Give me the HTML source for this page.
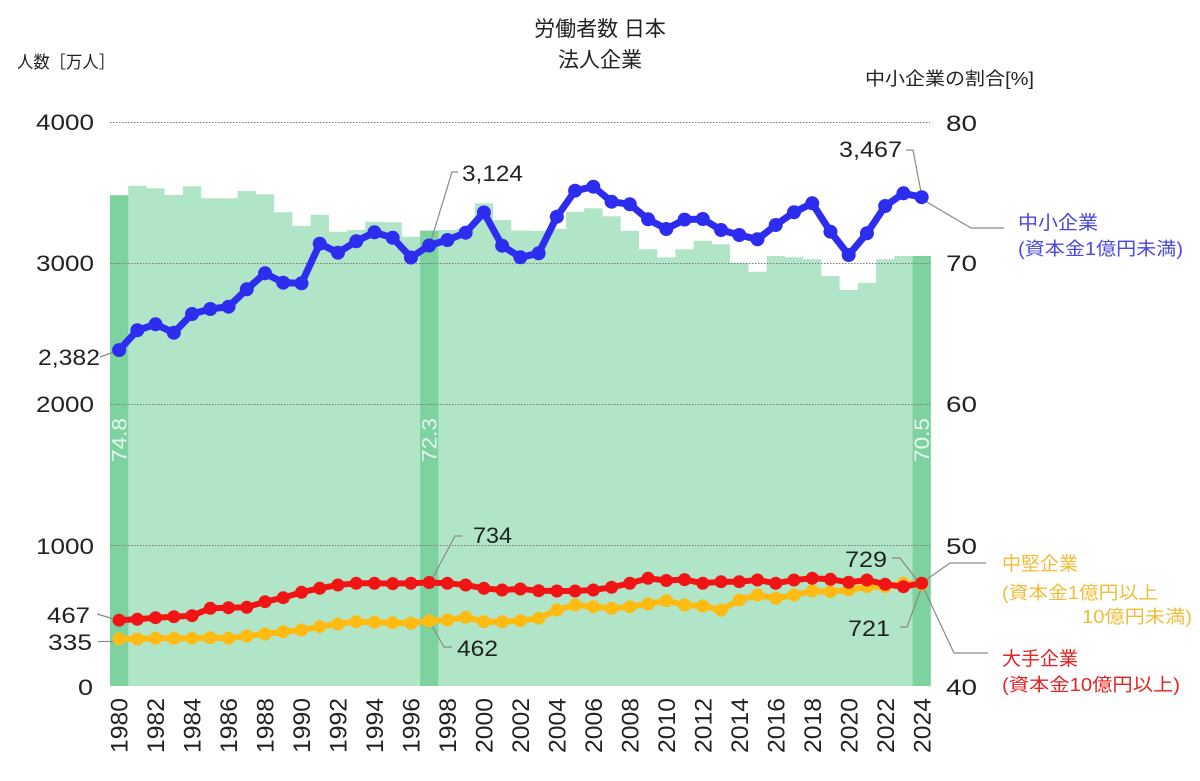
<!DOCTYPE html>
<html><head><meta charset="utf-8"><style>
html,body{margin:0;padding:0;background:#fff;}
svg{display:block;}
text{font-family:"Liberation Sans","Noto Sans CJK JP",sans-serif;}
</style></head><body>
<svg width="1200" height="781" viewBox="0 0 1200 781" xmlns="http://www.w3.org/2000/svg">
<defs>
<marker id="mb" markerUnits="userSpaceOnUse" markerWidth="16" markerHeight="16" refX="8" refY="8"><circle cx="8" cy="8" r="7" fill="#2d2df0"/></marker>
<marker id="mr" markerUnits="userSpaceOnUse" markerWidth="16" markerHeight="16" refX="8" refY="8"><circle cx="8" cy="8" r="6.5" fill="#f01414"/></marker>
<marker id="my" markerUnits="userSpaceOnUse" markerWidth="16" markerHeight="16" refX="8" refY="8"><circle cx="8" cy="8" r="6.5" fill="#ffbb11"/></marker>
</defs>
<rect width="1200" height="781" fill="#fff"/>

<!-- bars -->
<path fill="#b1e5c8" d="M110,686 V195.3 H128.24 V185.7 H146.48 V188.3 H164.72 V195 H182.96 V186.3 H201.2 V198.3 H219.44 V198.3 H237.68 V191 H255.92 V194.3 H274.16 V212.3 H292.4 V225.7 H310.64 V214.7 H328.88 V231.7 H347.12 V230 H365.36 V221.7 H383.6 V222.3 H401.84 V236.7 H420.08 V230.6 H438.32 V230 H456.56 V229 H474.8 V203.3 H493.04 V220 H511.28 V230.5 H529.52 V230.7 H547.76 V229 H566 V211.7 H584.24 V208.3 H602.48 V216.3 H620.72 V230.7 H638.96 V249.3 H657.2 V257.3 H675.44 V249.2 H693.68 V240.7 H711.92 V244.3 H730.16 V262.7 H748.4 V271.7 H766.64 V256 H784.88 V257.3 H803.12 V259.3 H821.36 V276 H839.6 V290 H857.84 V282.7 H876.08 V259.3 H894.32 V256 H912.56 V256 H930.8 V686 Z"/>
<rect x="110" y="195.3" width="18.24" height="490.7" fill="#7dd2a0"/>
<rect x="420.08" y="230.6" width="18.24" height="455.4" fill="#7dd2a0"/>
<rect x="912.56" y="256" width="18.24" height="430" fill="#7dd2a0"/>

<!-- gridlines -->
<g stroke="#7a7a7a" stroke-width="1" stroke-dasharray="1.5 1.5" fill="none">
<line x1="110" y1="122.5" x2="930" y2="122.5"/>
<line x1="110" y1="263.5" x2="930" y2="263.5"/>
<line x1="110" y1="404.5" x2="930" y2="404.5"/>
<line x1="110" y1="545.5" x2="930" y2="545.5"/>
</g>

<!-- bar value labels -->
<g fill="#ffffff" fill-opacity="0.8" font-size="21" text-anchor="middle">
<text transform="translate(126.6,440) rotate(-90)" textLength="44" lengthAdjust="spacingAndGlyphs">74.8</text>
<text transform="translate(436.7,440) rotate(-90)" textLength="44" lengthAdjust="spacingAndGlyphs">72.3</text>
<text transform="translate(929.2,440) rotate(-90)" textLength="44" lengthAdjust="spacingAndGlyphs">70.5</text>
</g>

<!-- leader lines -->
<g stroke="#8a8a8a" stroke-width="1.2" fill="none">
<path d="M100,357 L114,352"/>
<path d="M97,614 L114,619"/>
<path d="M98,641.5 H113"/>
<path d="M458,172 H452 L430,244"/>
<path d="M462,536 H455 L431,581"/>
<path d="M452,647 H444 L431,624"/>
<path d="M906,150 H913 L921,192"/>
<path d="M925,201 L971,228 H1004"/>
<path d="M892,558 H900 L920,584"/>
<path d="M900,627 H907 L921,589"/>
<path d="M986,563 H950 L923,582"/>
<path d="M988,653 H954 L923,587"/>
</g>

<!-- series -->
<polyline fill="none" stroke="#ffbb11" stroke-width="6" stroke-linejoin="round" marker-start="url(#my)" marker-mid="url(#my)" marker-end="url(#my)" points="119.1,638.8 137.34,639 155.58,638.3 173.82,638.3 192.06,638.3 210.3,637.7 228.54,638.3 246.78,636 265.02,634 283.26,631.7 301.5,630 319.74,626.7 337.98,624 356.22,621.7 374.46,622.3 392.7,622.7 410.94,623.3 429.18,620.9 447.42,620 465.66,617.3 483.9,621.7 502.14,621.7 520.38,620.7 538.62,618.3 556.86,610 575.1,605 593.34,606.7 611.58,608.3 629.82,606.7 648.06,604 666.3,600.7 684.54,605 702.78,606 721.02,610 739.26,600 757.5,595 775.74,598.3 793.98,595 812.22,591 830.46,591.7 848.7,590 866.94,586.7 885.18,586.7 903.42,583.3 921.66,584.3"/>
<polyline fill="none" stroke="#f01414" stroke-width="6" stroke-linejoin="round" marker-start="url(#mr)" marker-mid="url(#mr)" marker-end="url(#mr)" points="119.1,620.2 137.34,619.3 155.58,617.7 173.82,616.7 192.06,615.7 210.3,608.3 228.54,607.7 246.78,607.3 265.02,601.7 283.26,597.7 301.5,592.3 319.74,588.3 337.98,585 356.22,583.3 374.46,583.3 392.7,583.6 410.94,583.3 429.18,582.5 447.42,583.3 465.66,585 483.9,588.3 502.14,590 520.38,589 538.62,590.7 556.86,591 575.1,591 593.34,590 611.58,587.3 629.82,583.3 648.06,578.3 666.3,580.5 684.54,579.6 702.78,583.3 721.02,581.7 739.26,581.7 757.5,580 775.74,583.3 793.98,580 812.22,578.3 830.46,579.3 848.7,582.3 866.94,580 885.18,584.3 903.42,586.7 921.66,583.2"/>
<polyline fill="none" stroke="#2d2df0" stroke-width="7" stroke-linejoin="round" marker-start="url(#mb)" marker-mid="url(#mb)" marker-end="url(#mb)" points="119.1,350.1 137.34,330.3 155.58,324.3 173.82,332.7 192.06,314 210.3,309 228.54,306.7 246.78,289.3 265.02,273.3 283.26,282.7 301.5,283.3 319.74,243.7 337.98,252.7 356.22,241.3 374.46,232.3 392.7,237.8 410.94,257.5 429.18,245.5 447.42,240 465.66,232.7 483.9,212.5 502.14,245.7 520.38,257.3 538.62,253.3 556.86,216.7 575.1,190.7 593.34,186.7 611.58,201.7 629.82,204.3 648.06,219.3 666.3,229 684.54,219.6 702.78,219 721.02,230 739.26,235 757.5,239.3 775.74,225 793.98,212.3 812.22,203.3 830.46,231.7 848.7,255 866.94,233.3 885.18,206 903.42,193.3 921.66,197.2"/>

<!-- titles -->
<g fill="#222">
<text x="600" y="36" font-size="21" text-anchor="middle">労働者数 日本</text>
<text x="600" y="67" font-size="21" text-anchor="middle">法人企業</text>
<text x="17" y="68" font-size="17" textLength="98" lengthAdjust="spacingAndGlyphs">人数［万人］</text>
<text x="865" y="85" font-size="18" textLength="169" lengthAdjust="spacingAndGlyphs">中小企業の割合[%]</text>
</g>

<!-- left axis -->
<g fill="#222" font-size="22" text-anchor="end">
<text x="94" y="130" textLength="58" lengthAdjust="spacingAndGlyphs">4000</text>
<text x="94" y="271" textLength="58" lengthAdjust="spacingAndGlyphs">3000</text>
<text x="94" y="412" textLength="58" lengthAdjust="spacingAndGlyphs">2000</text>
<text x="94" y="554" textLength="58" lengthAdjust="spacingAndGlyphs">1000</text>
<text x="93" y="695" textLength="15" lengthAdjust="spacingAndGlyphs">0</text>
<text x="100" y="365" textLength="62" lengthAdjust="spacingAndGlyphs">2,382</text>
<text x="90" y="623" textLength="43" lengthAdjust="spacingAndGlyphs">467</text>
<text x="92" y="650" textLength="44" lengthAdjust="spacingAndGlyphs">335</text>
</g>

<!-- right axis -->
<g fill="#222" font-size="22">
<text x="946" y="131" textLength="31" lengthAdjust="spacingAndGlyphs">80</text>
<text x="946" y="271" textLength="31" lengthAdjust="spacingAndGlyphs">70</text>
<text x="946" y="412" textLength="31" lengthAdjust="spacingAndGlyphs">60</text>
<text x="946" y="554" textLength="31" lengthAdjust="spacingAndGlyphs">50</text>
<text x="946" y="695" textLength="31" lengthAdjust="spacingAndGlyphs">40</text>
</g>

<!-- annotations -->
<g fill="#222" font-size="22">
<text x="462" y="181" textLength="61" lengthAdjust="spacingAndGlyphs">3,124</text>
<text x="473" y="543" textLength="39" lengthAdjust="spacingAndGlyphs">734</text>
<text x="457" y="656" textLength="41" lengthAdjust="spacingAndGlyphs">462</text>
<text x="845" y="567" textLength="42" lengthAdjust="spacingAndGlyphs">729</text>
<text x="848" y="636" textLength="42" lengthAdjust="spacingAndGlyphs">721</text>
<text x="839" y="157" textLength="63" lengthAdjust="spacingAndGlyphs">3,467</text>
</g>

<!-- legend labels -->
<g font-size="19">
<text x="1018" y="229" fill="#4848e2" textLength="80" lengthAdjust="spacingAndGlyphs">中小企業</text>
<text x="1018" y="255" fill="#4848e2" font-size="18" textLength="165" lengthAdjust="spacingAndGlyphs">(資本金1億円未満)</text>
<text x="1002" y="570" fill="#f0bd3a" textLength="76" lengthAdjust="spacingAndGlyphs">中堅企業</text>
<text x="1002" y="599" fill="#f0bd3a" font-size="18" textLength="156" lengthAdjust="spacingAndGlyphs">(資本金1億円以上</text>
<text x="1082" y="623" fill="#f0bd3a" font-size="18" textLength="110" lengthAdjust="spacingAndGlyphs">10億円未満)</text>
<text x="1002" y="665" fill="#e62222" textLength="76" lengthAdjust="spacingAndGlyphs">大手企業</text>
<text x="1002" y="691" fill="#e62222" font-size="18" textLength="178" lengthAdjust="spacingAndGlyphs">(資本金10億円以上)</text>
</g>

<!-- year labels -->
<g fill="#222" font-size="24" text-anchor="end">
<text transform="translate(127.7,698) rotate(-90)" textLength="55" lengthAdjust="spacingAndGlyphs">1980</text>
<text transform="translate(164.2,698) rotate(-90)" textLength="55" lengthAdjust="spacingAndGlyphs">1982</text>
<text transform="translate(200.7,698) rotate(-90)" textLength="55" lengthAdjust="spacingAndGlyphs">1984</text>
<text transform="translate(237.1,698) rotate(-90)" textLength="55" lengthAdjust="spacingAndGlyphs">1986</text>
<text transform="translate(273.6,698) rotate(-90)" textLength="55" lengthAdjust="spacingAndGlyphs">1988</text>
<text transform="translate(310.1,698) rotate(-90)" textLength="55" lengthAdjust="spacingAndGlyphs">1990</text>
<text transform="translate(346.6,698) rotate(-90)" textLength="55" lengthAdjust="spacingAndGlyphs">1992</text>
<text transform="translate(383.1,698) rotate(-90)" textLength="55" lengthAdjust="spacingAndGlyphs">1994</text>
<text transform="translate(419.5,698) rotate(-90)" textLength="55" lengthAdjust="spacingAndGlyphs">1996</text>
<text transform="translate(456.0,698) rotate(-90)" textLength="55" lengthAdjust="spacingAndGlyphs">1998</text>
<text transform="translate(492.5,698) rotate(-90)" textLength="55" lengthAdjust="spacingAndGlyphs">2000</text>
<text transform="translate(529.0,698) rotate(-90)" textLength="55" lengthAdjust="spacingAndGlyphs">2002</text>
<text transform="translate(565.5,698) rotate(-90)" textLength="55" lengthAdjust="spacingAndGlyphs">2004</text>
<text transform="translate(601.9,698) rotate(-90)" textLength="55" lengthAdjust="spacingAndGlyphs">2006</text>
<text transform="translate(638.4,698) rotate(-90)" textLength="55" lengthAdjust="spacingAndGlyphs">2008</text>
<text transform="translate(674.9,698) rotate(-90)" textLength="55" lengthAdjust="spacingAndGlyphs">2010</text>
<text transform="translate(711.4,698) rotate(-90)" textLength="55" lengthAdjust="spacingAndGlyphs">2012</text>
<text transform="translate(747.9,698) rotate(-90)" textLength="55" lengthAdjust="spacingAndGlyphs">2014</text>
<text transform="translate(784.3,698) rotate(-90)" textLength="55" lengthAdjust="spacingAndGlyphs">2016</text>
<text transform="translate(820.8,698) rotate(-90)" textLength="55" lengthAdjust="spacingAndGlyphs">2018</text>
<text transform="translate(857.3,698) rotate(-90)" textLength="55" lengthAdjust="spacingAndGlyphs">2020</text>
<text transform="translate(893.8,698) rotate(-90)" textLength="55" lengthAdjust="spacingAndGlyphs">2022</text>
<text transform="translate(930.3,698) rotate(-90)" textLength="55" lengthAdjust="spacingAndGlyphs">2024</text>
</g>
</svg>
</body></html>
